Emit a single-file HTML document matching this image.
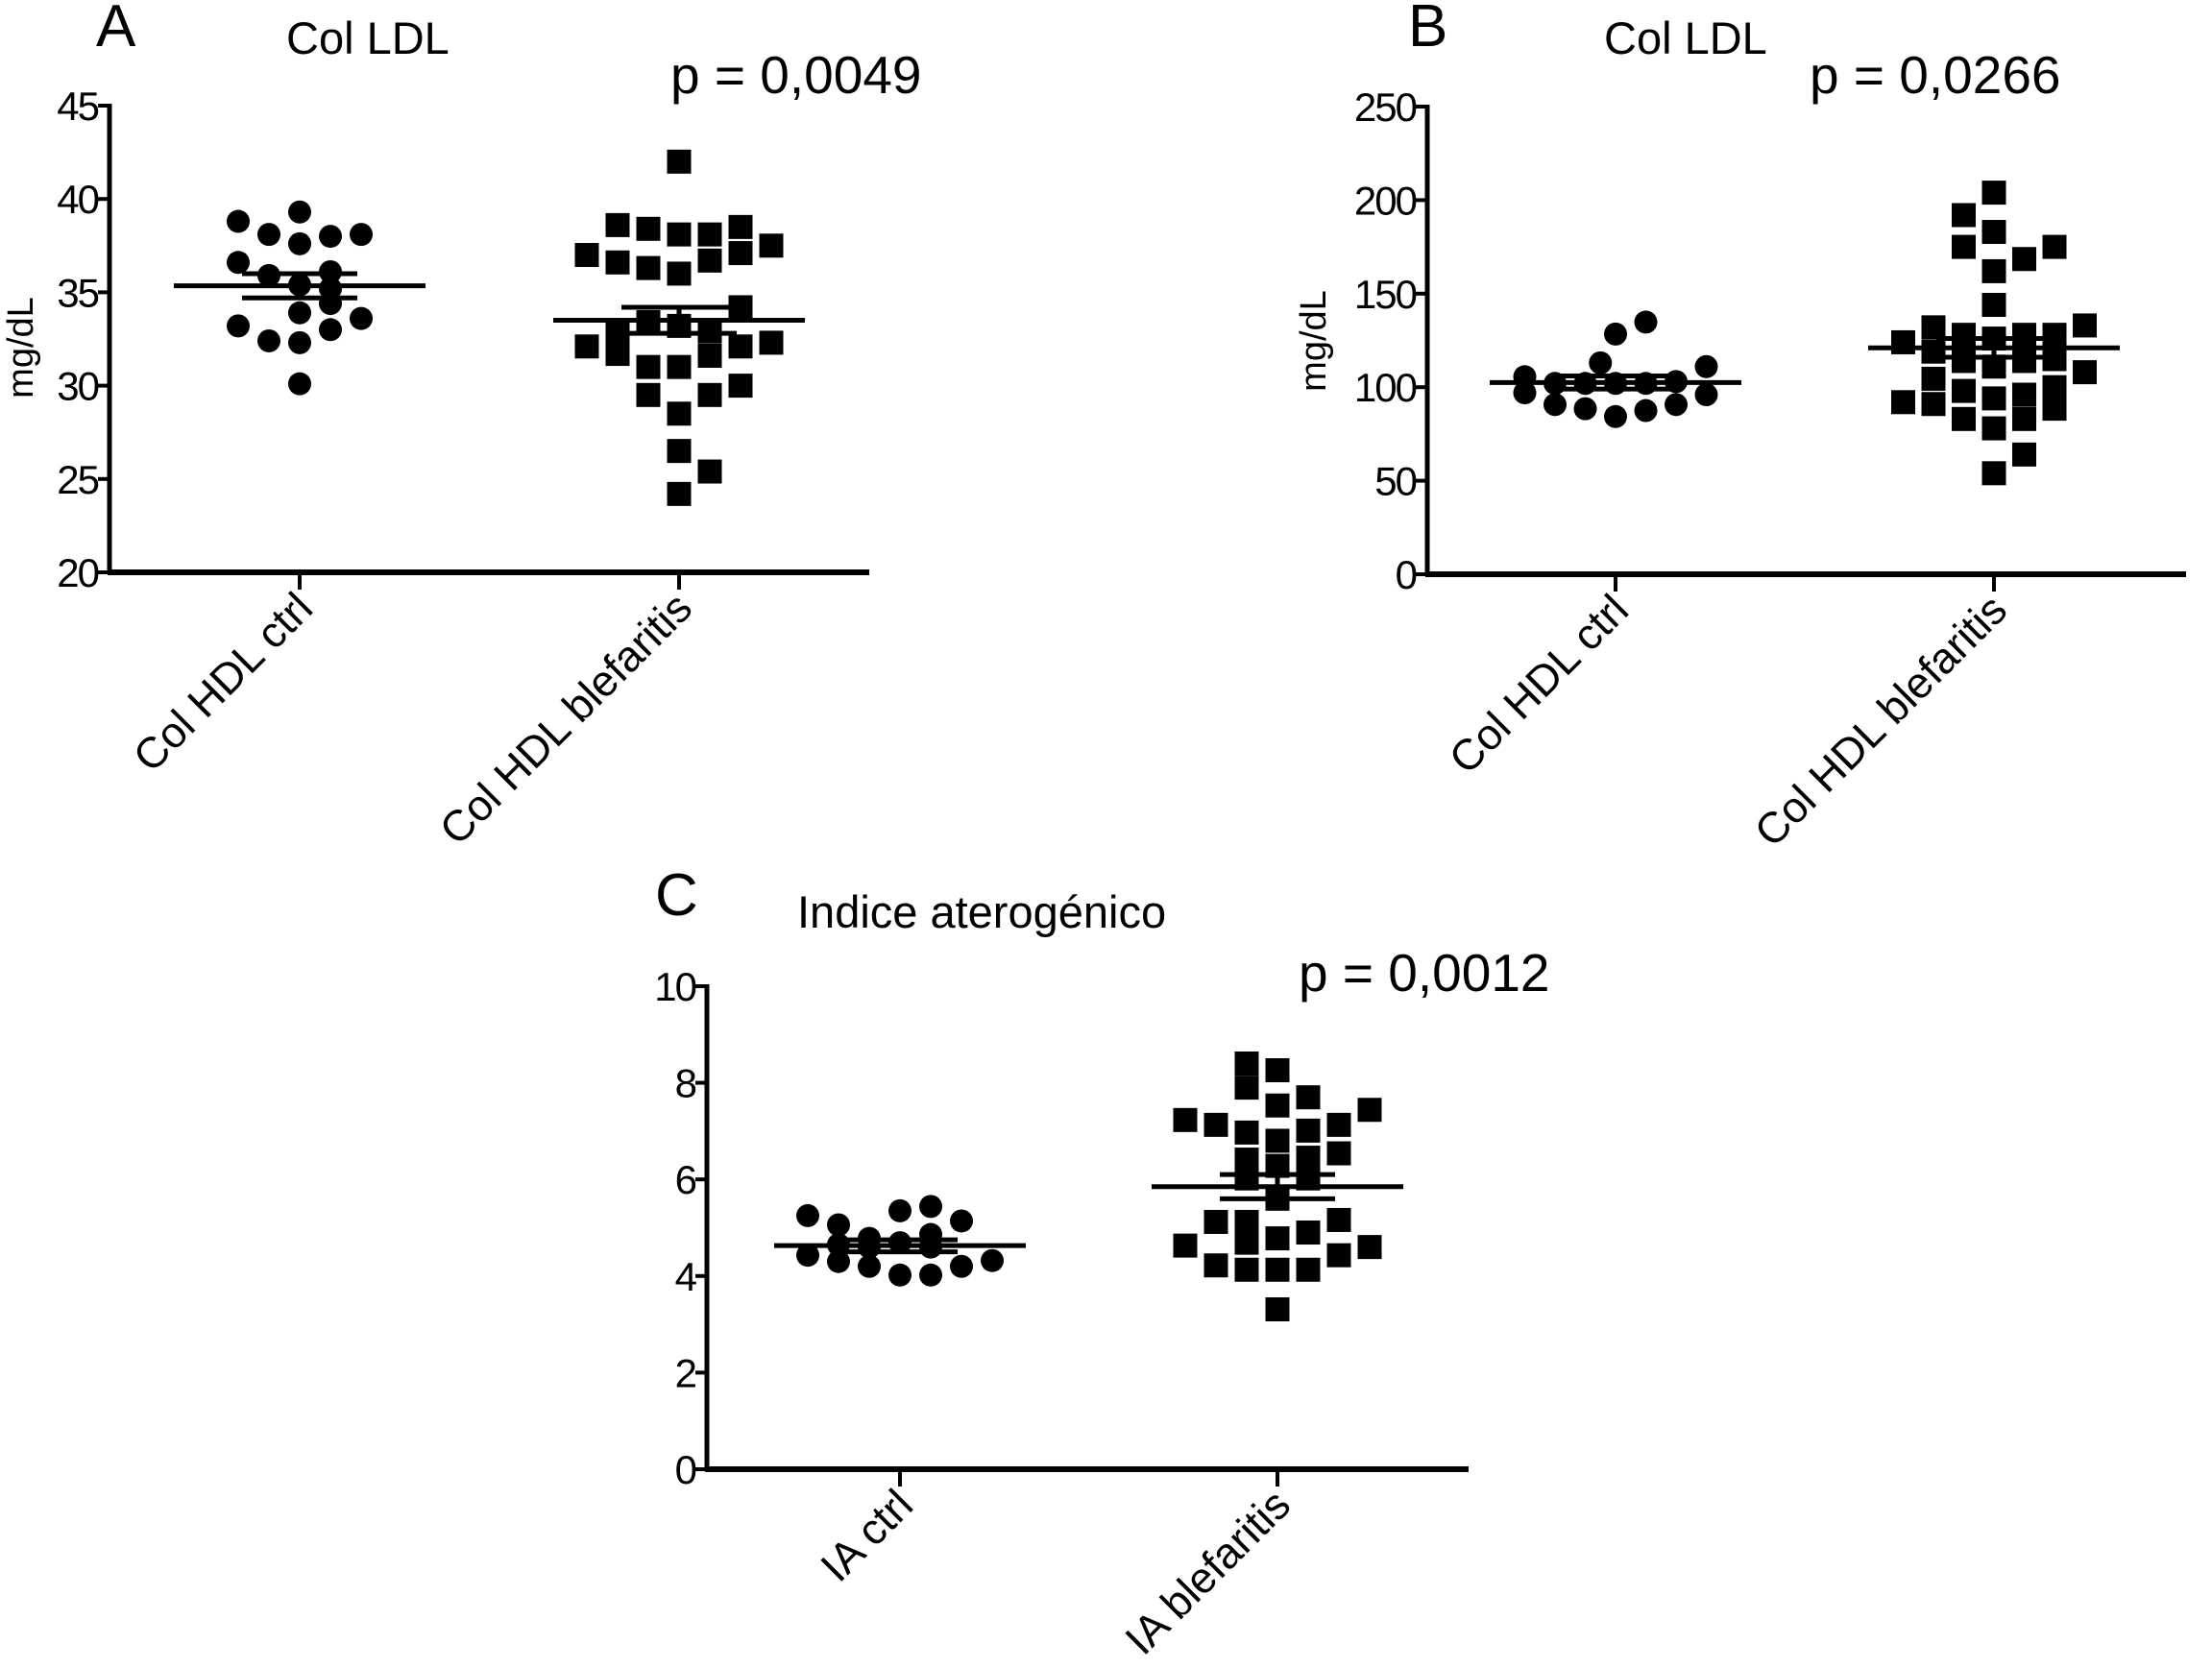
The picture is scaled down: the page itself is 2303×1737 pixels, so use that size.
<!DOCTYPE html>
<html><head><meta charset="utf-8">
<style>
html,body{margin:0;padding:0;background:#fff;}
svg{display:block;}
text{font-family:"Liberation Sans",Arial,sans-serif;fill:#000;}
</style></head>
<body>
<svg id="fig" width="2303" height="1737" viewBox="0 0 2303 1737" xmlns="http://www.w3.org/2000/svg"></svg>
<script>
// ---- Panel A data ----
const aCategories = ["Col HDL ctrl", "Col HDL blefaritis"];
const aTicks = [20, 25, 30, 35, 40, 45];
const aCtrlVals = [38.8, 39.3, 38.1, 37.6, 38.0, 38.1, 36.6, 36.1, 35.9, 35.4, 34.4, 33.9, 33.2, 33.6, 33.0, 32.4, 32.3, 30.1, 35.2];
const aCtrlCols = [-2, 0, -1, 0, 1, 2, -2, 1, -1, 0, 1, 0, -2, 2, 1, -1, 0, 0, 1];
const aBlefVals = [42.0, 38.6, 38.4, 38.1, 38.1, 38.5, 37.0, 37.5, 36.6, 36.3, 36.0, 36.7, 37.1, 34.2, 33.4, 33.2, 32.9, 32.9, 32.1, 32.3, 31.7, 32.1, 31.6, 31.0, 31.0, 29.5, 29.5, 30.0, 28.5, 26.5, 25.4, 24.2];
const aBlefCols = [0, -2, -1, 0, 1, 2, -3, 3, -2, -1, 0, 1, 2, 2, -1, 0, -2, 1, -3, 3, -2, 2, 1, -1, 0, -1, 1, 2, 0, 0, 1, 0];
const aStats = [[35.35, 36.0, 34.7], [33.5, 34.2, 32.8]];

// ---- Panel B data ----
const bCategories = ["Col HDL ctrl", "Col HDL blefaritis"];
const bTicks = [0, 50, 100, 150, 200, 250];
const bCtrlVals = [134.8, 128.4, 113, 111, 105.6, 97, 96, 90.7, 88.5, 84.3, 87.5, 90.7, 102, 102, 102, 102, 103];
const bCtrlCols = [1, 0, -0.5, 3, -3, -3, 3, -2, -1, 0, 1, 2, -2, -1, 0, 1, 2];
const bBlefVals = [204, 192, 183, 175, 175, 168.5, 162, 144, 132, 133, 124, 128, 126, 128, 128, 119, 114, 111, 114, 115, 104.5, 108, 98, 100, 92, 91, 94, 96, 88.5, 83, 83, 78, 64, 54];
const bBlefCols = [0, -1, 0, -1, 2, 1, 0, 0, -2, 3, -3, -1, 0, 1, 2, -2, -1, 0, 1, 2, -2, 3, -1, 2, -3, -2, 0, 1, 2, -1, 1, 0, 1, 0];
const bStats = [[102.5, 106, 99], [121, 126, 116]];

// ---- Panel C data ----
const cCategories = ["IA ctrl", "IA blefaritis"];
const cTicks = [0, 2, 4, 6, 8, 10];
const cCtrlVals = [5.25, 5.06, 5.35, 5.44, 5.14, 4.78, 4.86, 4.69, 4.65, 4.43, 4.30, 4.32, 4.20, 4.20, 4.02, 4.02, 4.6, 4.6];
const cCtrlCols = [-3, -2, 0, 1, 2, -1, 1, 0, -2, -3, -2, 3, -1, 2, 0, 1, -1, 1];
const cBlefVals = [8.4, 7.9, 8.26, 7.7, 7.53, 7.44, 7.23, 7.13, 6.97, 7.01, 7.13, 6.8, 6.41, 6.45, 6.54, 6.28, 6.02, 6.02, 5.6, 5.12, 5.12, 5.16, 4.9, 4.78, 4.69, 4.63, 4.6, 4.22, 4.13, 4.13, 4.13, 4.43, 3.31];
const cBlefCols = [-1, -1, 0, 1, 0, 3, -3, -2, -1, 1, 2, 0, -1, 1, 2, 0, -1, 1, 0, -2, -1, 2, 1, 0, -1, -3, 3, -2, -1, 0, 1, 2, 0];
const cStats = [[4.63, 4.75, 4.5], [5.85, 6.1, 5.6]];

const NS = "http://www.w3.org/2000/svg";
const svg = document.getElementById("fig");
function mk(tag, attrs, parent) {
  const e = document.createElementNS(NS, tag);
  for (const k in attrs) e.setAttribute(k, attrs[k]);
  (parent || svg).appendChild(e);
  return e;
}

function drawPanel(cfg) {
  const g = mk("g", {});
  
  
  const tmin = cfg.ticks[0], tmax = cfg.ticks[cfg.ticks.length - 1];
  const yScale = v => cfg.y0 + (v - tmin) / (tmax - tmin) * (cfg.y1 - cfg.y0);
  const xScale = i => cfg.cx[i];
  const L = mk("text", {x: cfg.letterX, y: cfg.letterY, "font-size": 62}, g);
  L.textContent = cfg.letter;
  
  
  const T = mk("text", {x: cfg.titleX, y: cfg.titleY, "font-size": 47}, g);
  T.textContent = cfg.title;
  
  
  const P = mk("text", {x: cfg.pX, y: cfg.pY, "font-size": 55}, g);
  P.textContent = cfg.p;
  
  
  const ya = mk("line", {x1: cfg.ax, x2: cfg.ax, y1: yScale(tmax) - 2, y2: yScale(tmin) + 2, stroke: "#000", "stroke-width": 5}, g);
  
  
  const xa = mk("line", {x1: cfg.ax - 2, x2: cfg.axEnd, y1: yScale(tmin), y2: yScale(tmin), stroke: "#000", "stroke-width": 6}, g);
  
  
  cfg.ticks.forEach(t => {
    const y = yScale(t);
    const tk = mk("line", {x1: cfg.ax - 12, x2: cfg.ax, y1: y, y2: y, stroke: "#000", "stroke-width": 4}, g);
    
    
    const tl = mk("text", {x: cfg.ax - 12, y: y + 15, "font-size": 42, "text-anchor": "end", "letter-spacing": -2}, g);
    tl.textContent = t;
    
    
  });
  if (cfg.ylabel) {
    const yl = mk("text", {x: 0, y: 0, "font-size": 38, "text-anchor": "middle", transform: `translate(${cfg.ylabelX},${cfg.ylabelY}) rotate(-90)`}, g);
    yl.textContent = cfg.ylabel;
    
    
  }
  cfg.cats.forEach((c, i) => {
    const x = xScale(i), yb = yScale(tmin);
    const tk = mk("line", {x1: x, x2: x, y1: yb, y2: yb + 18, stroke: "#000", "stroke-width": 4}, g);
    
    
    const tl = mk("text", {x: 0, y: 0, "font-size": 45, "text-anchor": "end", transform: `translate(${x + 16},${yb + 40}) rotate(-45)`}, g);
    tl.textContent = c;
    
    
  });
  const sp = cfg.spacing;
  cfg.ctrl.forEach((v, k) => {
    const m = mk("circle", {cx: xScale(0) + cfg.ctrlCols[k] * sp, cy: yScale(v), r: 12, fill: "#000"}, g);
    
    
  });
  cfg.blef.forEach((v, k) => {
    const m = mk("rect", {x: xScale(1) + cfg.blefCols[k] * sp - 12.5, y: yScale(v) - 12.5, width: 25, height: 25, fill: "#000"}, g);
    
    
  });
  cfg.stats.forEach((s, i) => {
    const x = xScale(i);
    const mn = mk("line", {x1: x - 131, x2: x + 131, y1: yScale(s[0]), y2: yScale(s[0]), stroke: "#000", "stroke-width": 5}, g);
    
    
    [s[1], s[2]].forEach(v => {
      const e = mk("line", {x1: x - 60, x2: x + 60, y1: yScale(v), y2: yScale(v), stroke: "#000", "stroke-width": 5}, g);
      
      
    });
    const ev = mk("line", {x1: x, x2: x, y1: yScale(s[1]), y2: yScale(s[2]), stroke: "#000", "stroke-width": 5}, g);
    
    
  });
}

drawPanel({id: "a", letter: "A", letterX: 100, letterY: 48, title: "Col LDL", titleX: 298, titleY: 56, p: "p = 0,0049", pX: 698, pY: 97,
  ax: 114, axEnd: 905, y0: 596, y1: 110, ticks: aTicks, cx: [312, 707], cats: aCategories, spacing: 32,
  ylabel: "mg/dL", ylabelX: 34, ylabelY: 362,
  ctrl: aCtrlVals, ctrlCols: aCtrlCols, blef: aBlefVals, blefCols: aBlefCols, stats: aStats});
drawPanel({id: "b", letter: "B", letterX: 1466, letterY: 48, title: "Col LDL", titleX: 1670, titleY: 56, p: "p = 0,0266", pX: 1884, pY: 97,
  ax: 1486, axEnd: 2276, y0: 598, y1: 111, ticks: bTicks, cx: [1682, 2076], cats: bCategories, spacing: 31.5,
  ylabel: "mg/dL", ylabelX: 1380, ylabelY: 355,
  ctrl: bCtrlVals, ctrlCols: bCtrlCols, blef: bBlefVals, blefCols: bBlefCols, stats: bStats});
drawPanel({id: "c", letter: "C", letterX: 682, letterY: 953, title: "Indice aterogénico", titleX: 830, titleY: 966, p: "p = 0,0012", pX: 1352, pY: 1032,
  ax: 736, axEnd: 1529, y0: 1530, y1: 1027, ticks: cTicks, cx: [937, 1330], cats: cCategories, spacing: 32,
  ylabel: null,
  ctrl: cCtrlVals, ctrlCols: cCtrlCols, blef: cBlefVals, blefCols: cBlefCols, stats: cStats});
</script>
</body></html>
